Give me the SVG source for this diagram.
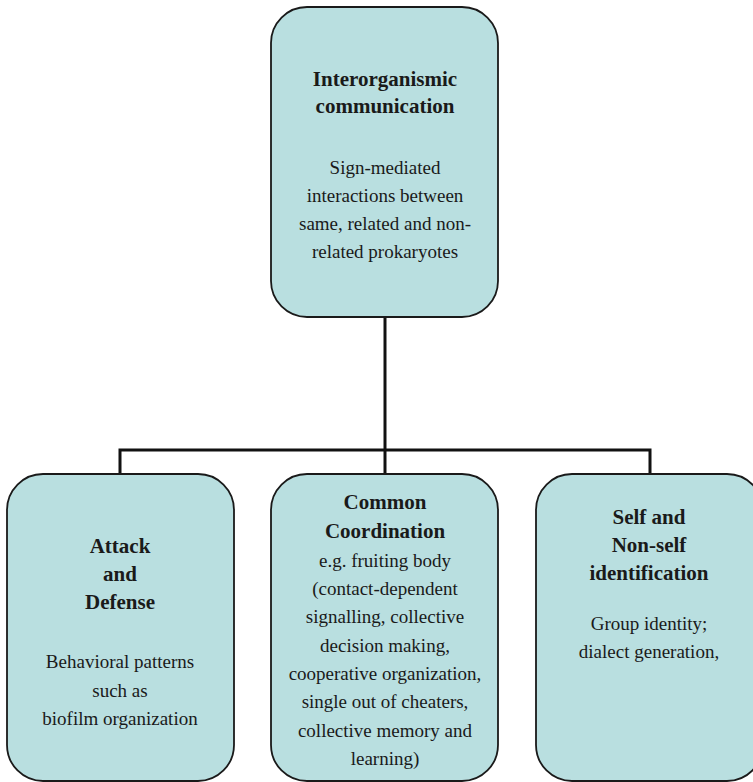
<svg xmlns="http://www.w3.org/2000/svg" width="753" height="782" viewBox="0 0 753 782">
  <style>
    .box { fill: #b9dfe0; stroke: #1a1a1a; stroke-width: 1.8; }
    .wire { fill: none; stroke: #111111; stroke-width: 3; stroke-linejoin: miter; }
    .label { fill: #1a1a1a; text-anchor: middle; }
    .title { font-size: 21px; font-weight: bold; }
    .body { font-size: 19px; }
  </style>

  <!-- connectors -->
  <g id="connectors">
    <path class="wire" d="M385,317 V474"/>
    <path class="wire" d="M120,474 V450 H650 V474"/>
  </g>

  <g class="label" font-family="'Liberation Serif', 'DejaVu Serif', serif">
  <!-- root node -->
  <g id="node-communication">
    <rect class="box" x="271" y="7" width="227" height="310" rx="36" ry="36"/>
    <text class="title" x="385" y="86">Interorganismic</text>
    <text class="title" x="385" y="113">communication</text>
    <text class="body" x="385" y="174">Sign-mediated</text>
    <text class="body" x="385" y="202">interactions between</text>
    <text class="body" x="385" y="230">same, related and non-</text>
    <text class="body" x="385" y="258">related prokaryotes</text>
  </g>

  <!-- left child -->
  <g id="node-attack">
    <rect class="box" x="7" y="474" width="227" height="307" rx="36" ry="36"/>
    <text class="title" x="120" y="553">Attack</text>
    <text class="title" x="120" y="581">and</text>
    <text class="title" x="120" y="609">Defense</text>
    <text class="body" x="120" y="668">Behavioral patterns</text>
    <text class="body" x="120" y="697">such as</text>
    <text class="body" x="120" y="725">biofilm organization</text>
  </g>

  <!-- middle child -->
  <g id="node-coordination">
    <rect class="box" x="271" y="474" width="227" height="307" rx="36" ry="36"/>
    <text class="title" x="385" y="509">Common</text>
    <text class="title" x="385" y="538">Coordination</text>
    <text class="body" x="385" y="567">e.g. fruiting body</text>
    <text class="body" x="385" y="595">(contact-dependent</text>
    <text class="body" x="385" y="623">signalling, collective</text>
    <text class="body" x="385" y="652">decision making,</text>
    <text class="body" x="385" y="680">cooperative organization,</text>
    <text class="body" x="385" y="708">single out of cheaters,</text>
    <text class="body" x="385" y="737">collective memory and</text>
    <text class="body" x="385" y="765">learning)</text>
  </g>

  <!-- right child -->
  <g id="node-identification">
    <rect class="box" x="536" y="474" width="227" height="307" rx="36" ry="36"/>
    <text class="title" x="649" y="524">Self and</text>
    <text class="title" x="649" y="552">Non-self</text>
    <text class="title" x="649" y="580">identification</text>
    <text class="body" x="649" y="630">Group identity;</text>
    <text class="body" x="649" y="658">dialect generation,</text>
  </g>
  </g>
</svg>
